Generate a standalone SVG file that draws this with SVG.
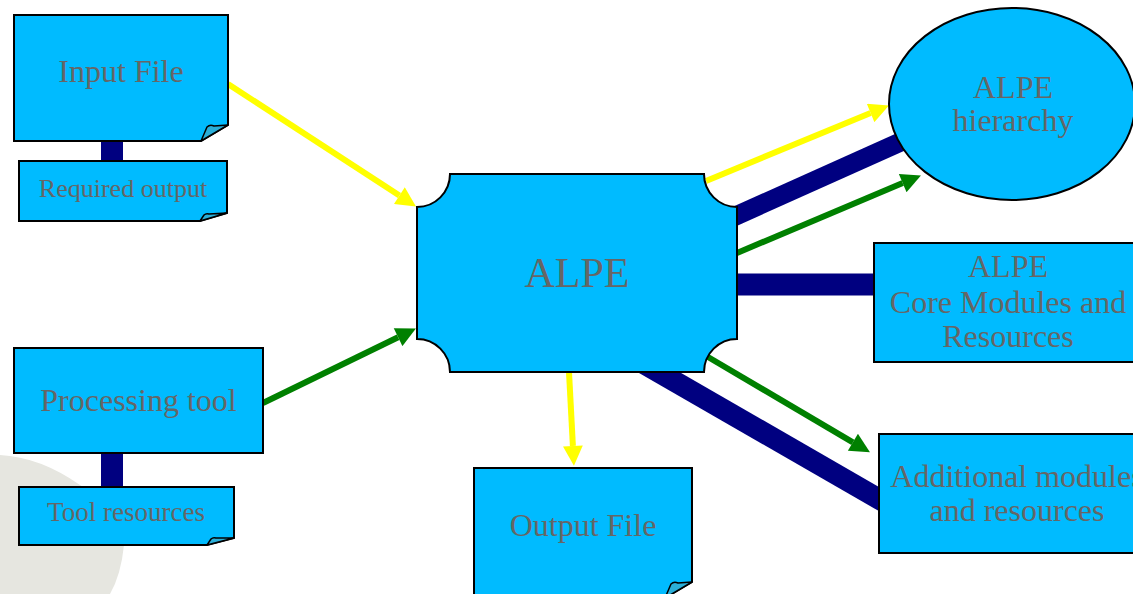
<svg xmlns="http://www.w3.org/2000/svg" width="1133" height="594" viewBox="0 0 1133 594">
<style>
.n{fill:#00BBFF;stroke:#000;stroke-width:2}
.flap{fill:#2AAED8;stroke:#000;stroke-width:1.5;stroke-linejoin:round}
.t{font-family:"Liberation Serif","Times New Roman",serif;fill:#666666;text-anchor:middle}
.y{stroke:#FFFF00;stroke-width:6;fill:none}
.g{stroke:#008000;stroke-width:6;fill:none}
.b{stroke:#000080;fill:none}
</style>
<defs>
<marker id="ay" viewBox="0 0 10 10" refX="0" refY="5" markerWidth="3.5" markerHeight="3.3" orient="auto"><path d="M0,0 L10,5 L0,10 Z" fill="#FFFF00"/></marker>
<marker id="ag" viewBox="0 0 10 10" refX="0" refY="5" markerWidth="3.5" markerHeight="3.3" orient="auto"><path d="M0,0 L10,5 L0,10 Z" fill="#008000"/></marker>
</defs>
<rect x="0" y="0" width="1133" height="594" fill="#FFFFFF"/>
<path d="M0,455 Q40,457 80,485 Q126,516 124,545 Q121,575 110,594 L0,594 Z" fill="#E6E6E0"/>
<g id="connectors">
<line class="b" x1="112" y1="138" x2="112" y2="164" stroke-width="22"/>
<line class="b" x1="112" y1="450" x2="112" y2="490" stroke-width="22"/>
<line class="b" x1="700" y1="232" x2="905" y2="140" stroke-width="19"/>
<line class="b" x1="720" y1="284.5" x2="880" y2="284.5" stroke-width="22"/>
<line class="b" x1="600" y1="338.3" x2="885" y2="502.5" stroke-width="21"/>
<line class="y" x1="228" y1="84" x2="399.4" y2="195.6" marker-end="url(#ay)"/>
<line class="g" x1="263" y1="403" x2="398.1" y2="337.2" marker-end="url(#ag)"/>
<line class="y" x1="569" y1="372" x2="572.9" y2="446" marker-end="url(#ay)"/>
<line class="y" x1="706" y1="181" x2="870.6" y2="113" marker-end="url(#ay)"/>
<line class="g" x1="737" y1="253" x2="902.7" y2="183.1" marker-end="url(#ag)"/>
<line class="g" x1="708" y1="357" x2="852.9" y2="442.3" marker-end="url(#ag)"/>
</g>
<g id="input-file">
<path class="n" d="M14,15 H228 V125 L201,141 H14 Z"/>
<path class="flap" d="M201,141 L207,127 Q210,124 214,126 L228,125 Z"/>
<text class="t" x="121" y="82" font-size="32">Input File</text>
</g>
<g id="required-output">
<path class="n" d="M19,161 H227 V213 L200,221 H19 Z"/>
<path class="flap" d="M200,221 L204,215 Q206,213 209,214 L227,213 Z"/>
<text class="t" x="123" y="197" font-size="26">Required output</text>
</g>
<g id="processing-tool">
<rect class="n" x="14" y="348" width="249" height="105"/>
<text class="t" x="138.5" y="411" font-size="32">Processing tool</text>
</g>
<g id="tool-resources">
<path class="n" d="M19,487 H234 V538 L207,545 H19 Z"/>
<path class="flap" d="M207,545 L211,539 Q213,537 216,538 L234,538 Z"/>
<text class="t" x="126" y="521" font-size="27">Tool resources</text>
</g>
<g id="alpe">
<path class="n" d="M450,174 H704 A33,33 0 0 0 737,207 V339 A33,33 0 0 0 704,372 H450 A33,33 0 0 0 417,339 V207 A33,33 0 0 0 450,174 Z"/>
<text class="t" x="577" y="287" font-size="42">ALPE</text>
</g>
<g id="output-file">
<path class="n" d="M474,468 H692 V582 L665,598 H474 Z"/>
<path class="flap" d="M665,598 L671,584 Q674,581 678,583 L692,582 Z"/>
<text class="t" x="583" y="536" font-size="32">Output File</text>
</g>
<g id="alpe-hierarchy">
<ellipse class="n" cx="1012" cy="104" rx="123" ry="96"/>
<text class="t" x="1013" y="98" font-size="32">ALPE</text>
<text class="t" x="1013" y="131" font-size="32">hierarchy</text>
</g>
<g id="core-modules">
<rect class="n" x="874" y="243" width="270" height="119"/>
<text class="t" x="1008" y="277" font-size="32">ALPE</text>
<text class="t" x="1008" y="313" font-size="32">Core Modules and</text>
<text class="t" x="1008" y="347" font-size="32">Resources</text>
</g>
<g id="additional-modules">
<rect class="n" x="879" y="434" width="280" height="119"/>
<text class="t" x="1017" y="487" font-size="32">Additional modules</text>
<text class="t" x="1017" y="521" font-size="32">and resources</text>
</g>
</svg>
